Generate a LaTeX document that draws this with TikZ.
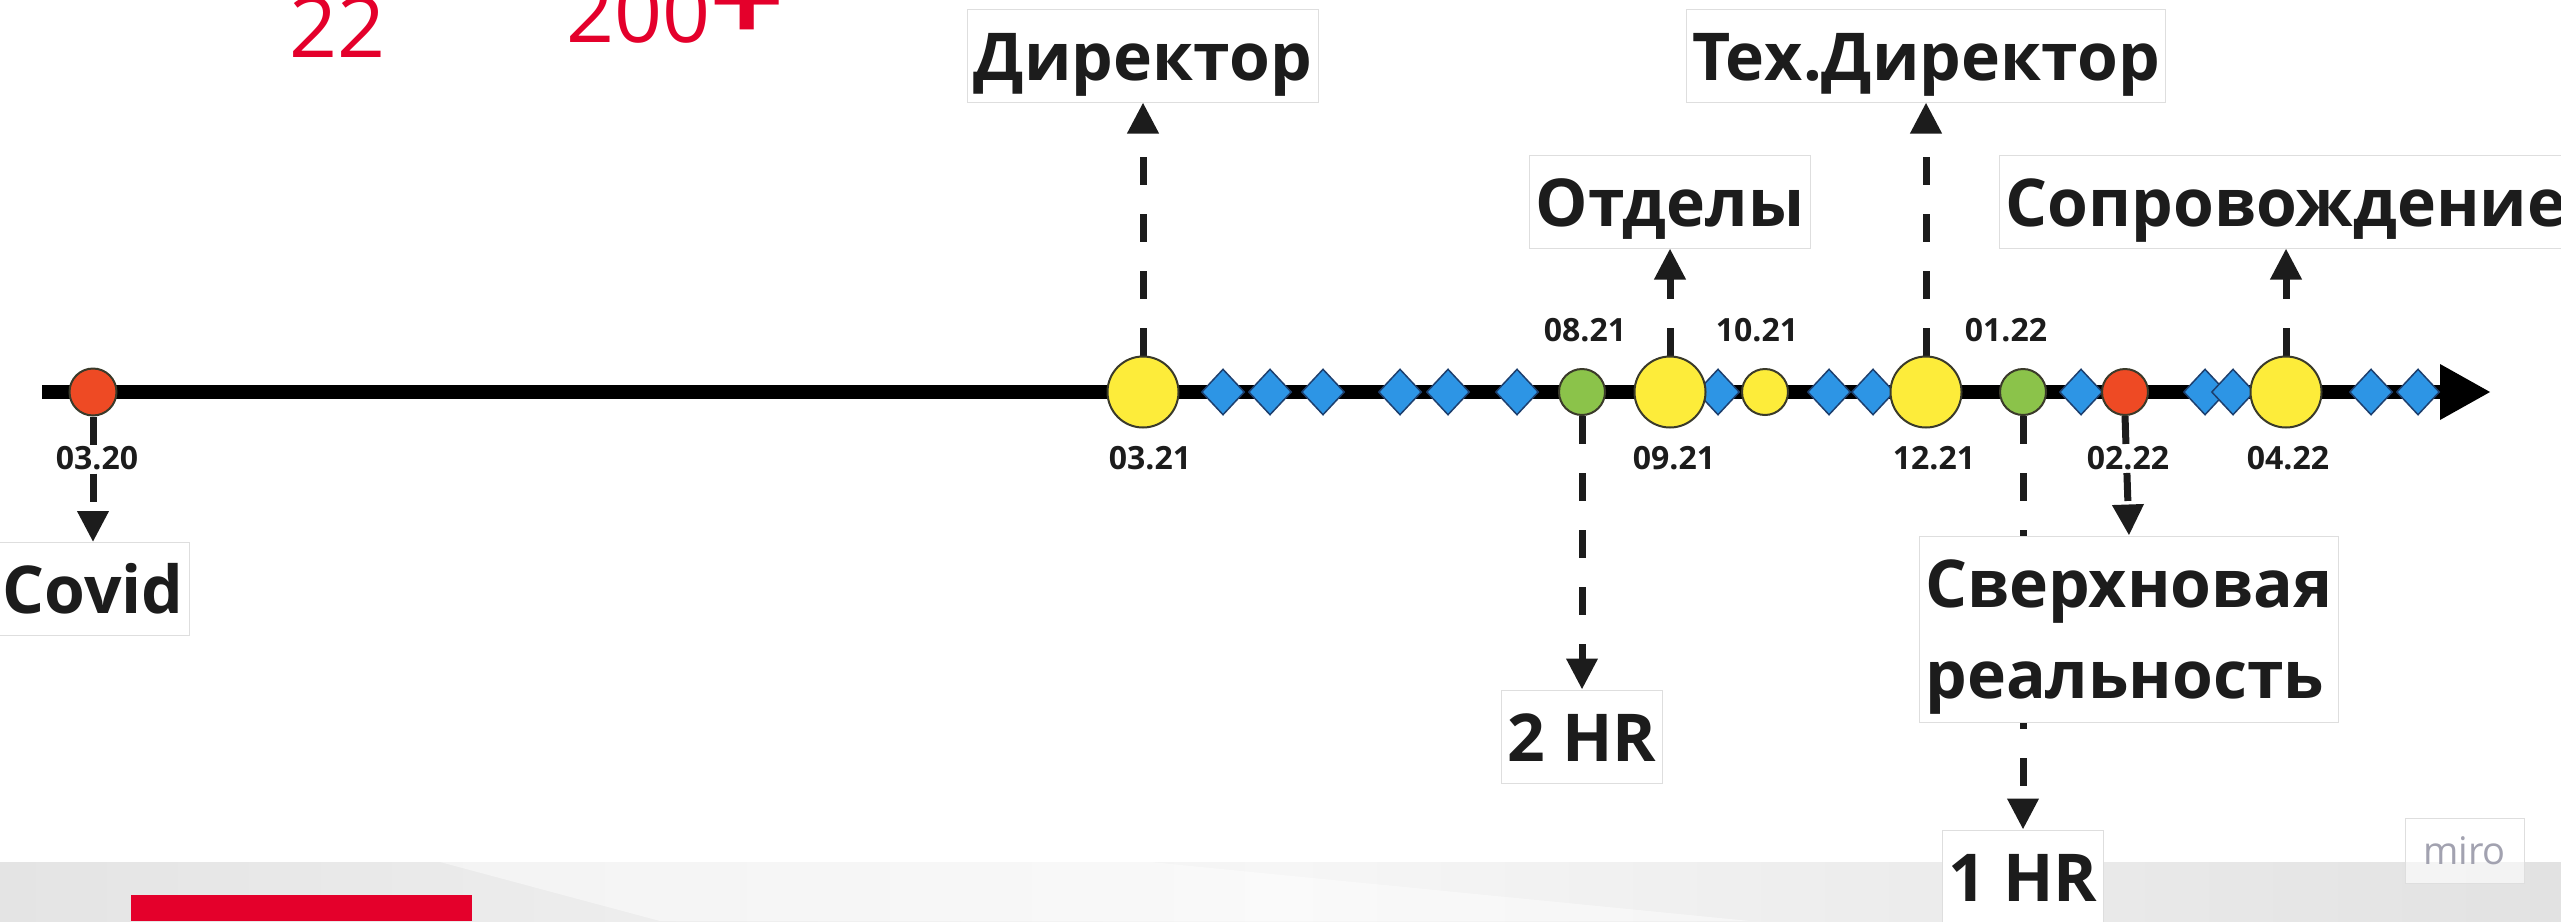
\documentclass[tikz,border=0pt]{standalone}
\usepackage{fontspec}
\setmainfont{Open Sans}
\usetikzlibrary{arrows.meta,shapes.geometric}
\definecolor{ylw}{HTML}{FDEC3A}
\definecolor{grn}{HTML}{8BC34A}
\definecolor{rd}{HTML}{EE4A24}
\definecolor{blu}{HTML}{2D95E5}
\definecolor{bluedge}{HTML}{1D3F6E}
\definecolor{edge}{HTML}{3A3A2A}
\definecolor{ink}{HTML}{1C1C1C}
\definecolor{brand}{HTML}{E4002B}
\definecolor{boxline}{HTML}{DEDEDE}
\definecolor{bandA}{HTML}{E4E4E4}
\definecolor{bandB}{HTML}{F6F6F6}
\definecolor{bandC}{HTML}{E2E2E2}
\definecolor{mirogray}{HTML}{A2A2B0}
\newcommand\labfont{\fontsize{66}{80}\selectfont\bfseries}
\newcommand\datefont{\fontsize{32}{38}\selectfont\bfseries}
\pgfdeclarelayer{band}
\pgfdeclarelayer{conn}
\pgfsetlayers{band,conn,main}
\begin{document}
\begin{tikzpicture}[x=1pt,y=-1pt,
  bigdot/.style={circle, inner sep=0pt, minimum size=71pt, fill=ylw, draw=edge, line width=2pt},
  smalldot/.style={circle, inner sep=0pt, minimum size=46pt, draw=edge, line width=2pt},
  gem/.style={diamond, inner sep=0pt, minimum width=43pt, minimum height=46pt, fill=blu, draw=bluedge, line width=1.5pt},
  datelbl/.style={font=\datefont, text=ink, inner sep=0pt, anchor=base},
  lblbox/.style={draw=boxline, line width=1pt, fill=white, font=\labfont, text=ink, inner xsep=6pt, inner ysep=0pt, text height=71pt, text depth=22pt},
  conn/.style={line width=7pt, ink, dash pattern=on 28pt off 29pt, -{Triangle[length=31pt,width=30pt]}},
  axisline/.style={line width=14pt, black, -{Triangle[length=51pt,width=52pt]}}]
\useasboundingbox (0,0) rectangle (2561,921);

% background band
\begin{pgfonlayer}{band}
  \fill[white] (0,0) rectangle (2561,921);
  \shade[left color=bandA, right color=bandC, middle color=bandB] (0,862) rectangle (2561,921);
  \fill[white, opacity=0.45] (440,862) -- (1150,862) -- (1750,921) -- (660,921) -- cycle;
  \fill[brand] (131,895) rectangle (472,921);
\end{pgfonlayer}

% red numbers
\node[font=\fontsize{84}{90}\selectfont, text=brand, anchor=base west, inner sep=0pt] (n22) at (289,57) {22};
\node[font=\fontsize{84}{90}\selectfont, text=brand, anchor=base west, inner sep=0pt] (n200) at (566,42) {200};
\node[font=\fontsize{132}{140}\selectfont\bfseries, text=brand, inner sep=0pt] (nplus) at (747,5) {+};

% axis
\coordinate (axL) at (42,392);
\coordinate (axR) at (2491,392);
\begin{pgfonlayer}{conn}
  \draw[axisline] (axL) -- (axR);
\end{pgfonlayer}

% diamonds
\foreach \x/\n in {1223/d1,1270/d2,1323/d3,1400/d4,1448/d5,1517/d6,1718/d7,1829/d8,1873/d9,2081/d10,2205/d11,2233/d12,2371/d13,2418/d14}
  \node[gem] (\n) at (\x,392) {};

% circles
\node[smalldot, minimum size=47pt, fill=rd] (c0320) at (93,392) {};
\node[bigdot] (c0321) at (1143,392) {};
\node[smalldot, fill=grn] (c0821) at (1582,392) {};
\node[bigdot] (c0921) at (1670,392) {};
\node[smalldot, fill=ylw] (c1021) at (1765,392) {};
\node[bigdot] (c1221) at (1926,392) {};
\node[smalldot, fill=grn] (c0122) at (2023,392) {};
\node[smalldot, fill=rd] (c0222) at (2125,392) {};
\node[bigdot] (c0422) at (2286,392) {};

% date labels
\node[datelbl] (t0320) at (97,469) {03.20};
\node[datelbl] (t0321) at (1150,469) {03.21};
\node[datelbl] (t0921) at (1674,469) {09.21};
\node[datelbl] (t1221) at (1934,469) {12.21};
\node[datelbl] (t0222) at (2128,469) {02.22};
\node[datelbl] (t0422) at (2288,469) {04.22};
\node[datelbl] (t0821) at (1585,341) {08.21};
\node[datelbl] (t1021) at (1757,341) {10.21};
\node[datelbl] (t0122) at (2006,341) {01.22};

% label boxes
\node[lblbox] (covid) at (93,589) {Covid};
\node[lblbox] (direktor) at (1143,55.5) {Директор};
\node[lblbox] (tex) at (1926,55.5) {Тех.Директор};
\node[lblbox] (otdely) at (1670,201.5) {Отделы};
\node[lblbox] (sopr) at (2286,201.5) {Сопровождение};
\node[lblbox] (hr2) at (1582,736.5) {2 HR};
\node[lblbox] (hr1) at (2023,876.5) {1 HR};
\node[lblbox, text height=162pt, text depth=24pt] (sverh) at (2129,629)
  {\vbox{\baselineskip=91pt\hbox{Сверхновая}\hbox{реальность}}};

% connectors
\begin{pgfonlayer}{conn}
  \draw[conn] (c0320.south) -- (covid.north);
  \draw[conn] (c0321.north) -- (direktor.south);
  \draw[conn] (c0821.south) -- (hr2.north);
  \draw[conn] (c0921.north) -- (otdely.south);
  \draw[conn] (c1221.north) -- (tex.south);
  \draw[conn] (c0122.south) -- (hr1.north);
  \draw[conn] (c0222.south) -- (sverh.north);
  \draw[conn] (c0422.north) -- (sopr.south);
\end{pgfonlayer}

% miro watermark
\node[draw=boxline, line width=1pt, fill=white, fill opacity=0.6, text opacity=1, minimum width=119pt, minimum height=65pt, inner sep=0pt, font=\fontsize{38}{40}\selectfont, text=mirogray] (miro) at (2464.5,850.5) {miro};
\end{tikzpicture}
\end{document}
